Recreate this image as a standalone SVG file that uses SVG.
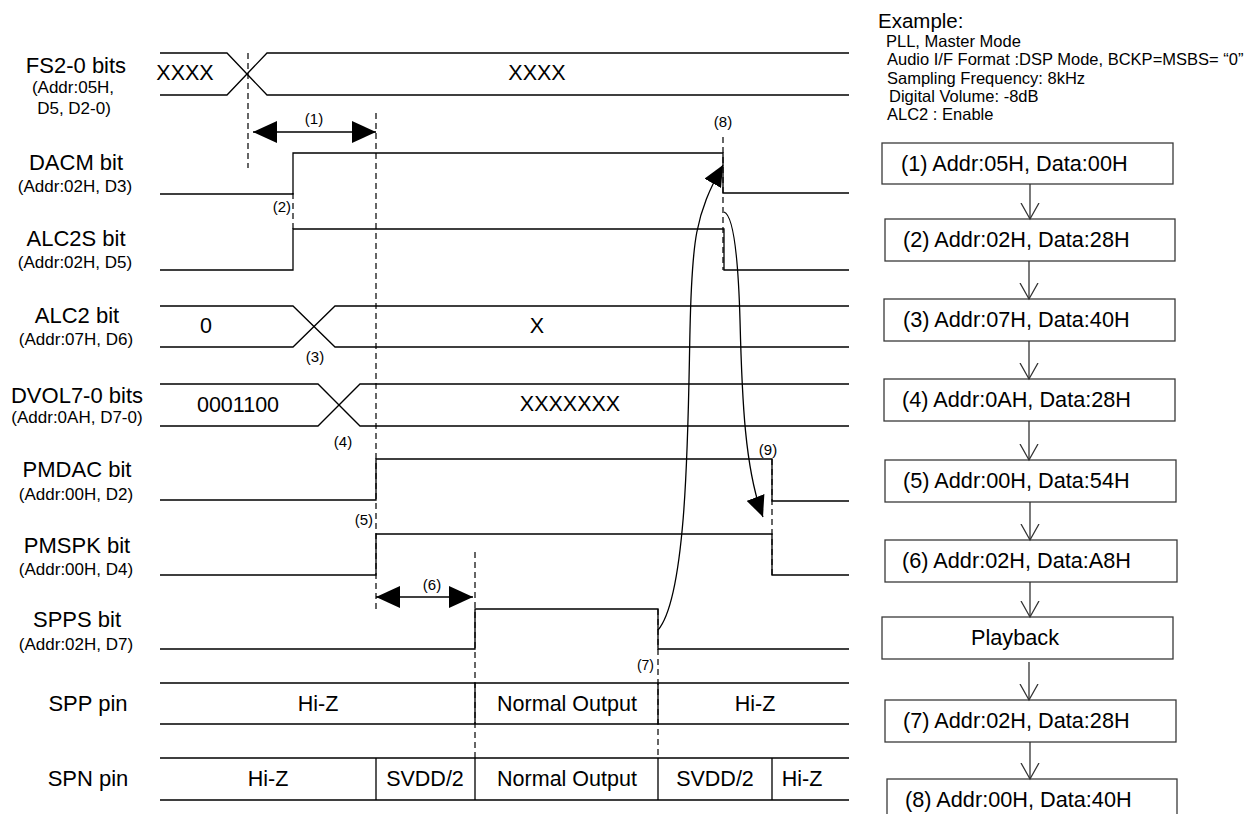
<svg xmlns="http://www.w3.org/2000/svg" width="1248" height="814" viewBox="0 0 1248 814">
<style>
text{font-family:"Liberation Sans",Arial,sans-serif;fill:#000}
.lbl{font-size:22px;text-anchor:middle}
.sub{font-size:17px;text-anchor:middle}
.val{font-size:21.5px;text-anchor:middle}
.num{font-size:15px;text-anchor:middle}
.numr{font-size:15px;text-anchor:end}
.ex{font-size:16.5px}
.box{fill:#fff;stroke:#3a3a3a;stroke-width:1.3}
.bt{font-size:21.7px}
.w{fill:none;stroke:#000;stroke-width:1.3}
.d{fill:none;stroke:#000;stroke-width:1.2;stroke-dasharray:6 4}
.c{fill:none;stroke:#000;stroke-width:1.3}
.f{fill:none;stroke:#333;stroke-width:1.3}
</style>
<defs>
<marker id="ah" markerUnits="userSpaceOnUse" markerWidth="24" markerHeight="22" refX="24" refY="11" orient="auto-start-reverse" viewBox="0 0 24 22"><path d="M0,0 L24,11 L0,22 Z" fill="#000"/></marker>
<marker id="ahs" markerUnits="userSpaceOnUse" markerWidth="21" markerHeight="19" refX="21" refY="9.5" orient="auto" viewBox="0 0 21 19"><path d="M0,0 L21,9.5 L0,19 Z" fill="#000"/></marker>
<marker id="vee" markerUnits="userSpaceOnUse" markerWidth="20" markerHeight="22" refX="16" refY="10" orient="auto" viewBox="0 0 20 22"><path d="M0,1 L16,10 L0,19" fill="none" stroke="#333" stroke-width="1.3"/></marker>
</defs>
<rect width="1248" height="814" fill="#fff"/>

<g id="guides">
<path class="d" d="M248,53 V168"/>
<path class="d" d="M376,113 V613"/>
<path class="d" d="M293,193 V229"/>
<path class="d" d="M723,137 V270"/>
<path class="d" d="M475,552 V758"/>
<path class="d" d="M658,609 V758"/>
<path class="d" d="M772,459 V575"/>
</g>

<g id="fs">
<text class="lbl" x="76" y="73">FS2-0 bits</text>
<text class="sub" x="73" y="93">(Addr:05H,</text>
<text class="sub" x="74" y="114">D5, D2-0)</text>
<path class="w" d="M160,53 H227 L267,95 H849 M160,95 H227 L267,53 H849"/>
<text class="val" x="185" y="80">XXXX</text>
<text class="val" x="537" y="80">XXXX</text>
</g>

<g id="dacm">
<text class="lbl" x="76" y="170">DACM bit</text>
<text class="sub" x="75" y="192">(Addr:02H, D3)</text>
<path class="w" d="M160,194 H293 V153 H723 V193 H849"/>
</g>

<g id="alc2s">
<text class="lbl" x="76" y="246">ALC2S bit</text>
<text class="sub" x="75" y="268">(Addr:02H, D5)</text>
<path class="w" d="M160,270 H293 V229 H724 V270 H849"/>
</g>

<g id="alc2">
<text class="lbl" x="77" y="323">ALC2 bit</text>
<text class="sub" x="76" y="345">(Addr:07H, D6)</text>
<path class="w" d="M160,306 H293 L335,347 H849 M160,347 H293 L335,306 H849"/>
<text class="val" x="206" y="333">0</text>
<text class="val" x="537" y="333">X</text>
</g>

<g id="dvol">
<text class="lbl" x="77" y="403">DVOL7-0 bits</text>
<text class="sub" x="77" y="423">(Addr:0AH, D7-0)</text>
<path class="w" d="M160,384 H318 L360,426 H849 M160,426 H318 L360,384 H849"/>
<text class="val" x="238" y="412">0001100</text>
<text class="val" x="570" y="411">XXXXXXX</text>
</g>

<g id="pmdac">
<text class="lbl" x="77" y="477">PMDAC bit</text>
<text class="sub" x="76" y="500">(Addr:00H, D2)</text>
<path class="w" d="M160,500 H376 V459 H772 V501 H849"/>
</g>

<g id="pmspk">
<text class="lbl" x="77" y="553">PMSPK bit</text>
<text class="sub" x="76" y="575">(Addr:00H, D4)</text>
<path class="w" d="M160,575 H376 V534 H772 V575 H849"/>
</g>

<g id="spps">
<text class="lbl" x="77" y="627">SPPS bit</text>
<text class="sub" x="76" y="650">(Addr:02H, D7)</text>
<path class="w" d="M160,649 H475 V609 H658 V649 H849"/>
</g>

<g id="spp">
<text class="lbl" x="88" y="711">SPP pin</text>
<path class="w" d="M160,683 H849 M160,724 H849 M475,683 V724 M658,683 V724"/>
<text class="val" x="318" y="711">Hi-Z</text>
<text class="val" x="567" y="711">Normal Output</text>
<text class="val" x="755" y="711">Hi-Z</text>
</g>

<g id="spn">
<text class="lbl" x="88" y="786">SPN pin</text>
<path class="w" d="M160,758 H849 M160,800 H849 M376,758 V800 M475,758 V800 M658,758 V800 M772,758 V800"/>
<text class="val" x="268" y="786">Hi-Z</text>
<text class="val" x="425" y="786">SVDD/2</text>
<text class="val" x="567" y="786">Normal Output</text>
<text class="val" x="715" y="786">SVDD/2</text>
<text class="val" x="802" y="786">Hi-Z</text>
</g>

<g id="step-labels">
<text class="num" x="314" y="124">(1)</text>
<text class="numr" x="291" y="212">(2)</text>
<text class="num" x="315" y="362">(3)</text>
<text class="num" x="343" y="447">(4)</text>
<text class="numr" x="373" y="525">(5)</text>
<text class="num" x="432" y="590">(6)</text>
<text class="numr" x="654" y="670" style="font-size:14px">(7)</text>
<text class="num" x="723" y="127">(8)</text>
<text class="num" x="768" y="455">(9)</text>
</g>

<g id="example">
<text x="878" y="28" style="font-size:20.5px">Example:</text>
<text class="ex" x="886" y="47">PLL, Master Mode</text>
<text class="ex" x="887" y="65">Audio I/F Format :DSP Mode, BCKP=MSBS= “0”</text>
<text class="ex" x="887" y="84">Sampling Frequency: 8kHz</text>
<text class="ex" x="889" y="102">Digital Volume: -8dB</text>
<text class="ex" x="887" y="120">ALC2 : Enable</text>
</g>

<g id="step1"><rect class="box" x="882" y="143" width="291" height="41"/><text class="bt" x="901" y="171">(1) Addr:05H, Data:00H</text></g>
<g id="step2"><rect class="box" x="885" y="219" width="290" height="42"/><text class="bt" x="903" y="247">(2) Addr:02H, Data:28H</text></g>
<g id="step3"><rect class="box" x="884" y="299" width="291" height="42"/><text class="bt" x="903" y="327">(3) Addr:07H, Data:40H</text></g>
<g id="step4"><rect class="box" x="884" y="379" width="291" height="42"/><text class="bt" x="902" y="407">(4) Addr:0AH, Data:28H</text></g>
<g id="step5"><rect class="box" x="885" y="460" width="291" height="42"/><text class="bt" x="903" y="488">(5) Addr:00H, Data:54H</text></g>
<g id="step6"><rect class="box" x="885" y="540" width="292" height="42"/><text class="bt" x="902" y="568">(6) Addr:02H, Data:A8H</text></g>
<g id="playback"><rect class="box" x="882" y="617" width="291" height="42"/><text class="bt" x="1015" y="645" text-anchor="middle">Playback</text></g>
<g id="step7"><rect class="box" x="885" y="700" width="291" height="42"/><text class="bt" x="903" y="728">(7) Addr:02H, Data:28H</text></g>
<g id="step8"><rect class="box" x="887" y="779" width="290" height="42"/><text class="bt" x="905" y="807">(8) Addr:00H, Data:40H</text></g>

<g id="connectors">
<path class="c" d="M253,132 H376" marker-start="url(#ah)" marker-end="url(#ah)"/>
<path class="c" d="M376,597 H473" marker-start="url(#ah)" marker-end="url(#ah)"/>
<path class="c" d="M658,630 C688,595 688,420 690,330 C692,240 695,215 723,165" marker-end="url(#ahs)"/>
<path class="c" d="M724,212 C733,215 738,250 740,320 C742,400 745,470 763,517" marker-end="url(#ahs)"/>
<path class="f" d="M1030,184 V219" marker-end="url(#vee)"/>
<path class="f" d="M1029,261 V299" marker-end="url(#vee)"/>
<path class="f" d="M1029,341 V379" marker-end="url(#vee)"/>
<path class="f" d="M1029,421 V460" marker-end="url(#vee)"/>
<path class="f" d="M1030,502 V540" marker-end="url(#vee)"/>
<path class="f" d="M1030,582 V617" marker-end="url(#vee)"/>
<path class="f" d="M1029,662 V700" marker-end="url(#vee)"/>
<path class="f" d="M1030,742 V779" marker-end="url(#vee)"/>
</g>
</svg>
